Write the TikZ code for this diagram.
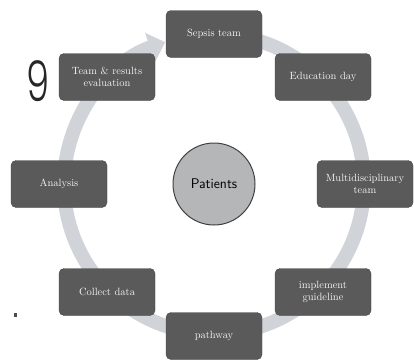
\documentclass[tikz,border=0pt]{standalone}
\usepackage{fontspec}
\usepackage{tikz}
\usetikzlibrary{arrows.meta}
\newfontfamily\thinfont{Poppins}[UprightFont=* Light]
\definecolor{boxgray}{RGB}{90,90,90}
\definecolor{ringgray}{RGB}{208,212,217}
\definecolor{patgray}{RGB}{180,182,184}

\begin{document}
\begin{tikzpicture}[x=1pt,y=1pt,
	stage/.style={draw=boxgray!75!black,fill=boxgray,rounded corners=5pt,minimum width=96pt,minimum height=47pt,text=white!92!gray,align=center,font=\fontsize{10.5}{11.5}\selectfont,inner sep=2pt}]
	\useasboundingbox (0,0) rectangle (414,360);
	
	\node[circle,draw=black!75,line width=1pt,fill=patgray,minimum size=82pt,font=\sffamily\fontsize{14}{16}\selectfont] (pat) at (214,176){Patients};
	%ring
	\draw[ringgray,line width=14pt,-{Triangle[length=16pt,width=30pt]}] (pat.center) ++(78:150) arc[start angle=78,end angle=-251,radius=150];
	%stages
	\node[stage] (sepsis) at (214,326){Sepsis team};
	\node[stage] (edu) at (323,283){Education day};
	\node[stage] (multi) at (365,176){Multidisciplinary\\team};
	\node[stage] (impl) at (323,68){implement\\guideline};
	\node[stage] (path) at (214,24){pathway};
	\node[stage] (collect) at (107,68){Collect data};
	\node[stage] (ana) at (59,176){Analysis};
	\node[stage] (eval) at (107,283){Team \& results\\evaluation};
	%marks
	\node[font=\thinfont\fontsize{56}{56}\selectfont,text=black!85,xscale=0.66] (nine) at (38,279){9};
	\fill[black!70] (14,43) rectangle (17,47);
\end{tikzpicture}
\end{document}
